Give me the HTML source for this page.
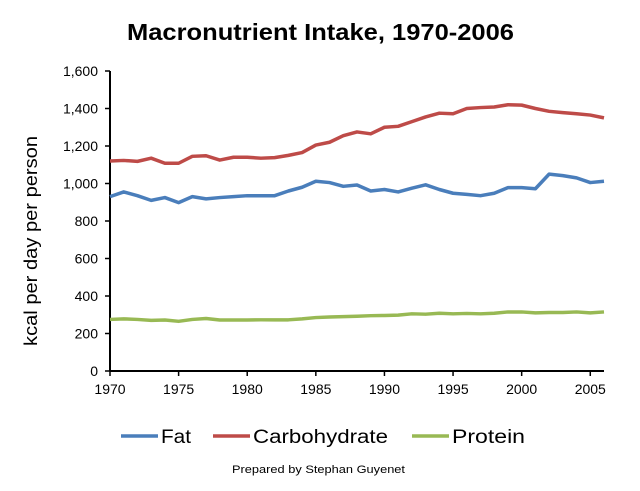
<!DOCTYPE html>
<html><head><meta charset="utf-8"><style>
body{margin:0;background:#fff;font-family:"Liberation Sans",sans-serif}
svg text{font-family:"Liberation Sans",sans-serif}
</style></head><body>
<svg id="c" width="640" height="486">
<text x="127" y="40" textLength="387" lengthAdjust="spacingAndGlyphs" font-size="23" font-weight="bold">Macronutrient Intake, 1970-2006</text>
<text transform="translate(37,241) rotate(-90)" text-anchor="middle" textLength="210" lengthAdjust="spacingAndGlyphs" font-size="18">kcal per day per person</text>
<text x="232" y="473" textLength="173" lengthAdjust="spacingAndGlyphs" font-size="11">Prepared by Stephan Guyenet</text>
<g id="axes"></g><g id="lines"></g><g id="legend"></g>
</svg>
<script>
const years=[];for(let y=1970;y<=2006;y++)years.push(y);
const fat=[930,955,935,910,925,898,930,918,925,930,935,935,935,960,980,1012,1005,985,992,960,968,955,975,993,968,948,942,935,948,978,978,972,1050,1042,1030,1005,1012];
const carb=[1120,1123,1118,1135,1108,1108,1145,1148,1125,1140,1140,1135,1138,1150,1165,1205,1220,1255,1275,1265,1300,1305,1330,1355,1375,1372,1400,1405,1408,1420,1418,1400,1385,1378,1372,1365,1350];
const protein=[275,278,275,270,272,265,275,280,272,272,272,273,273,273,278,285,288,290,292,295,296,298,305,303,308,305,307,305,308,315,315,310,312,312,315,310,315];
const yTicks=[0,200,400,600,800,1000,1200,1400,1600];
const xTicks=[1970,1975,1980,1985,1990,1995,2000,2005];
const NS="http://www.w3.org/2000/svg";
const X=v=>110+(v-1970)*(494/36), Y=v=>371-v*300/1600;
function mk(t,a,p){const e=document.createElementNS(NS,t);for(const k in a)e.setAttribute(k,a[k]);p.appendChild(e);return e;}
const ax=document.getElementById('axes');
let l=mk('line',{x1:110,y1:71,x2:110,y2:371,stroke:'#000','stroke-width':2},ax);


l=mk('line',{x1:110,y1:371,x2:604,y2:371,stroke:'#000','stroke-width':2},ax);


yTicks.forEach(v=>{mk('line',{x1:105,x2:110,y1:Y(v),y2:Y(v),stroke:'#000','stroke-width':1.5},ax);
const t=mk('text',{x:98,y:Y(v)+5,'text-anchor':'end','font-size':14},ax);t.textContent=v.toLocaleString('en-US');

});
xTicks.forEach(v=>{mk('line',{x1:X(v),x2:X(v),y1:371,y2:376,stroke:'#000','stroke-width':1.5},ax);
const t=mk('text',{x:X(v),y:394,'text-anchor':'middle','font-size':14},ax);t.textContent=v;

});
const series=[['fat',fat,'#4a7ebb','Fat'],['carbohydrate',carb,'#be4b48','Carbohydrate'],['protein',protein,'#98b954','Protein']];
const lg=document.getElementById('lines');
series.forEach(s=>{const p=mk('polyline',{points:s[1].map((v,i)=>X(years[i])+','+Y(v)).join(' '),fill:'none',stroke:s[2],'stroke-width':3.5,'stroke-linejoin':'round'},lg);

});
const le=document.getElementById('legend');const lx=[121,213,412];const tl=[30,135,73];
series.forEach((s,i)=>{const g=mk('g',{},le);


mk('line',{x1:lx[i],x2:lx[i]+37,y1:436,y2:436,stroke:s[2],'stroke-width':3.5},g);
const t=mk('text',{x:lx[i]+40,y:443,'font-size':19,textLength:tl[i],lengthAdjust:'spacingAndGlyphs'},g);t.textContent=s[3];});
</script>
</body></html>
